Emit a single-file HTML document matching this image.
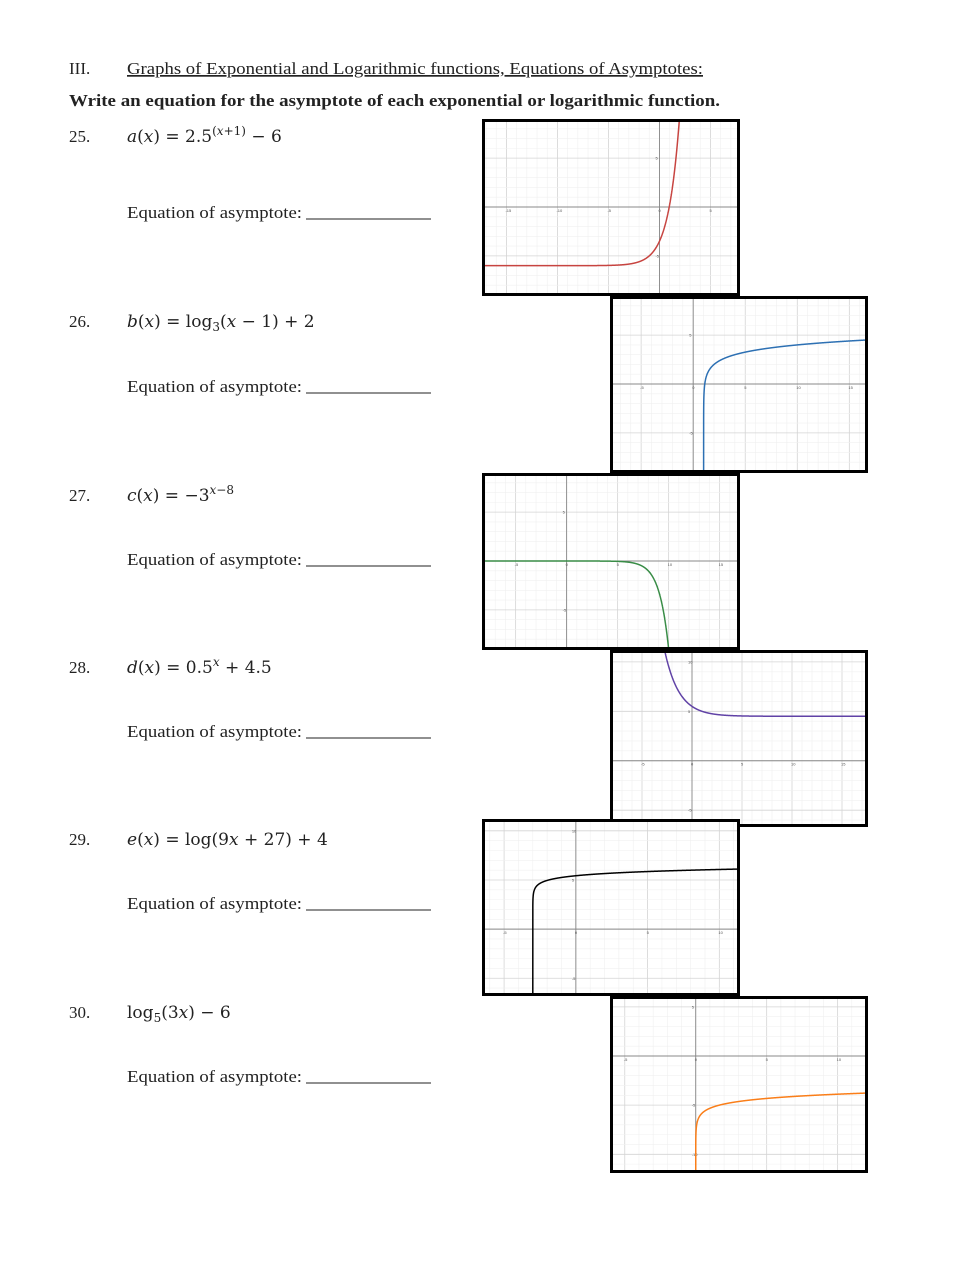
<!DOCTYPE html>
<html><head><meta charset="utf-8">
<style>
html,body{margin:0;padding:0;background:#fff;}
svg{display:block;font-family:"Liberation Serif",serif;}
.t{font-size:17px;fill:#222;}
.m{font-size:17px;fill:#222;font-family:"DejaVu Serif","Liberation Serif",serif;}
.tick{font-size:4px;fill:#555;font-family:"Liberation Sans",sans-serif;}
</style></head>
<body>
<svg id="page" width="979" height="1266" viewBox="0 0 979 1266" xmlns="http://www.w3.org/2000/svg">
<text class="t" x="69" y="74">III.</text>
<text class="t" x="127" y="74" textLength="576" lengthAdjust="spacingAndGlyphs" text-decoration="underline">Graphs of Exponential and Logarithmic functions, Equations of Asymptotes:</text>
<text class="t" x="69" y="106" font-weight="bold" textLength="651" lengthAdjust="spacingAndGlyphs">Write an equation for the asymptote of each exponential or logarithmic function.</text>
<g id="items"></g>
<g id="graphs"></g>
</svg>
<script>
// Problem data
const problemNumbers = ["25.","26.","27.","28.","29.","30."];
// Function parameters per graph
const fnType = ["exp","log","exp","exp","log","log"];
const fnBase = [2.5, 3, 3, 0.5, 10, 5];
const fnInnerScale = [1, 1, 1, 1, 9, 3];
const fnInnerShift = [1, -1, -8, 0, 27, 0];
const fnSign = [1, 1, -1, 1, 1, 1];
const fnVShift = [-6, 2, 0, 4.5, 4, -6];
const fnColor = ["#c74440","#2d70b3","#388c46","#6042a6","#000000","#fa7e19"];
// Axis domains
const xMin = [-17.2, -7.8, -8.1, -8.0, -6.4, -5.9];
const xMax = [7.7, 16.6, 16.8, 17.4, 11.3, 12.0];
const yMin = [-8.9, -8.9, -8.9, -6.5, -6.6, -11.7];
const yMax = [8.8, 8.8, 8.8, 11.0, 11.0, 5.9];
const tickStep = [5,5,5,5,5,5];

const NS="http://www.w3.org/2000/svg";
const items=document.getElementById('items');
const graphs=document.getElementById('graphs');
function mk(tag,attrs,parent){const e=document.createElementNS(NS,tag);for(const k in attrs)e.setAttribute(k,attrs[k]);parent.appendChild(e);return e;}
const itemY=[136,321,495,667,839,1012];
const eqY=[212,386,559,731,903,1076];
const mathHTML=[
 '<tspan font-style="italic">a</tspan>(<tspan font-style="italic">x</tspan>) = 2.5<tspan dy="-7" font-size="12">(<tspan font-style="italic">x</tspan>+1)</tspan><tspan dy="7"> − 6</tspan>',
 '<tspan font-style="italic">b</tspan>(<tspan font-style="italic">x</tspan>) = log<tspan dy="4" font-size="12">3</tspan><tspan dy="-4">(<tspan font-style="italic">x</tspan> − 1) + 2</tspan>',
 '<tspan font-style="italic">c</tspan>(<tspan font-style="italic">x</tspan>) = −3<tspan dy="-7" font-size="12"><tspan font-style="italic">x</tspan>−8</tspan>',
 '<tspan font-style="italic">d</tspan>(<tspan font-style="italic">x</tspan>) = 0.5<tspan dy="-7" font-size="12" font-style="italic">x</tspan><tspan dy="7"> + 4.5</tspan>',
 '<tspan font-style="italic">e</tspan>(<tspan font-style="italic">x</tspan>) = log(9<tspan font-style="italic">x</tspan> + 27) + 4',
 'log<tspan dy="4" font-size="12">5</tspan><tspan dy="-4">(3<tspan font-style="italic">x</tspan>) − 6</tspan>'
];
const mathFS=[16,16,15,16,16,16];
for(let i=0;i<6;i++){
  const n=mk('text',{class:'t',x:69,y:itemY[i]+6},items);n.textContent=problemNumbers[i];
  
  
  const f=mk('text',{class:'m',x:127,y:itemY[i]+6,'font-size':mathFS[i]},items);f.innerHTML=mathHTML[i];
  
  
  const e=mk('text',{class:'t',x:127,y:eqY[i]+6,textLength:175,lengthAdjust:'spacingAndGlyphs'},items);e.textContent='Equation of asymptote:';
  
  
  const l=mk('line',{x1:306,y1:eqY[i]+7,x2:431,y2:eqY[i]+7,stroke:'#222','stroke-width':1},items);
  
  
}
const frames=[[482,119],[610,296],[482,473],[610,650],[482,819],[610,996]];
const FW=258,FH=177;
function fn(i,x){
  const u=fnInnerScale[i]*x+fnInnerShift[i];
  if(fnType[i]==='exp') return fnSign[i]*Math.pow(fnBase[i],u)+fnVShift[i];
  if(u<=0) return NaN;
  return fnSign[i]*Math.log(u)/Math.log(fnBase[i])+fnVShift[i];
}
for(let i=0;i<6;i++){
  const [fx,fy]=frames[i];
  const g=mk('g',{},graphs);
  
  
  const L=fx+2,T=fy+2,W=FW-4,H=FH-4;
  mk('rect',{x:L,y:T,width:W,height:H,fill:'#fff'},g);
  const sx=v=>L+(v-xMin[i])/(xMax[i]-xMin[i])*W;
  const sy=v=>T+(yMax[i]-v)/(yMax[i]-yMin[i])*H;
  const cid='clip'+i;
  const cp=mk('clipPath',{id:cid},g);mk('rect',{x:L,y:T,width:W,height:H},cp);
  const gg=mk('g',{'clip-path':'url(#'+cid+')'},g);
  for(let v=Math.ceil(xMin[i]);v<=xMax[i];v++){
    const major=v%tickStep[i]===0;
    mk('line',{x1:sx(v),y1:T,x2:sx(v),y2:T+H,stroke:major?'#d4d4d4':'#f0f0f0','stroke-width':major?0.8:0.6},gg);
  }
  for(let v=Math.ceil(yMin[i]);v<=yMax[i];v++){
    const major=v%tickStep[i]===0;
    mk('line',{x1:L,y1:sy(v),x2:L+W,y2:sy(v),stroke:major?'#d4d4d4':'#f0f0f0','stroke-width':major?0.8:0.6},gg);
  }
  mk('line',{x1:sx(0),y1:T,x2:sx(0),y2:T+H,stroke:'#888','stroke-width':0.9},gg);
  mk('line',{x1:L,y1:sy(0),x2:L+W,y2:sy(0),stroke:'#888','stroke-width':0.9},gg);
  for(let v=Math.ceil(xMin[i]/5)*5;v<=xMax[i];v+=5){
    const t=mk('text',{class:'tick',x:sx(v)-1,y:sy(0)+5},gg);t.textContent=v;
  }
  for(let v=Math.ceil(yMin[i]/5)*5;v<=yMax[i];v+=5){ if(v===0)continue;
    const t=mk('text',{class:'tick',x:sx(0)-4,y:sy(v)+1.5},gg);t.textContent=v;
  }
  let d='',pen=false;
  if(fnType[i]==='log'){
    const ax=-fnInnerShift[i]/fnInnerScale[i];
    d='M'+sx(ax).toFixed(2)+' '+sy(yMin[i]-3).toFixed(2);
    pen=true;
  }
  const N=4000;
  for(let k=0;k<=N;k++){
    const x=xMin[i]+(xMax[i]-xMin[i])*k/N;
    let y=fn(i,x);
    if(!isFinite(y)) continue;
    y=Math.max(Math.min(y,yMax[i]+3),yMin[i]-3);
    d+=(pen?'L':'M')+sx(x).toFixed(2)+' '+sy(y).toFixed(2);
    pen=true;
  }
  const p=mk('path',{d:d,fill:'none',stroke:fnColor[i],'stroke-width':1.5},gg);
  
  
  const fr=mk('rect',{x:fx+1.5,y:fy+1.5,width:FW-3,height:FH-3,fill:'none',stroke:'#000','stroke-width':3},g);
  
  
}
</script>
</body></html>
